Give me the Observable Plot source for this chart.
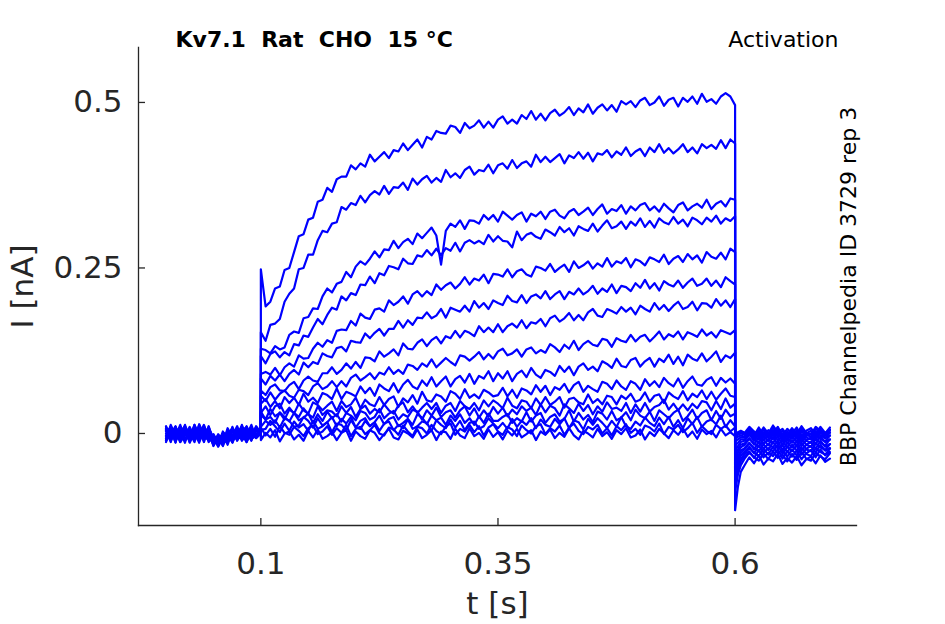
<!DOCTYPE html>
<html>
<head>
<meta charset="utf-8">
<script src="https://cdn.jsdelivr.net/npm/d3@7"></script>
<script src="https://cdn.jsdelivr.net/npm/@observablehq/plot@0.6"></script>
<style>
  html, body { margin: 0; padding: 0; background: #ffffff; }
  #chart { width: 945px; height: 624px; }
</style>
</head>
<body>
<div id="chart"></div>
<script>
// ---- Text ----
const titleText = "Kv7.1\u00a0 Rat\u00a0 CHO\u00a0 15 \u00b0C";
const protocolText = "Activation";
const sourceText = "BBP Channelpedia ID 3729 rep 3";
const xLabel = "t [s]";
const yLabel = "I [nA]";

// ---- Ticks ----
const xTicks = [0.1, 0.35, 0.6];
const yTicks = [0, 0.25, 0.5];

// ---- Segment time spans (s) ----
const preSpan = [0, 0.1];      // holding before the step
const pulseSpan = [0.1, 0.6];  // voltage step
const postT = [0.6,0.603,0.606,0.61,0.615,0.62,0.625,0.63,0.635,0.64,0.645,0.65,0.655,0.66,0.665,0.67,0.675,0.68,0.685,0.69,0.695,0.7];

// ---- Current traces, values in pA ----
// pre-step baseline, t = 0 ... 0.1
const pre1 = [4,-11,8,-3,13,-7,1,-14,6,-4,-16,-6,-19,3,-10,7,-4,11,-6,8,0];
const pre2 = [-8,7,-13,11,-1,6,-10,14,-4,3,-19,-3,-13,-7,8,-11,4,-3,13,-7,1];
const pre3 = [10,-3,4,-13,7,-8,13,-6,3,-11,-7,-18,-1,-11,6,-4,10,-8,3,-1,-1];
const pre4 = [-4,11,-8,3,-14,8,-3,7,-10,11,-13,-4,-17,4,-7,-1,11,-10,6,-6,2];
const pre5 = [7,-13,10,-6,3,-11,8,-1,13,-7,-3,-20,-6,1,-13,8,-6,3,-11,10,0];
const pre6 = [-11,4,-4,13,-8,1,-13,10,-3,6,-15,-1,-10,-14,4,-3,8,-13,1,7,-2];
const pre7 = [3,8,-10,-1,11,-4,6,-11,8,-8,-4,-17,3,-8,-3,11,-7,4,-4,11,1];
const pre8 = [-7,-1,11,-10,4,-13,3,8,-7,1,-11,-7,-18,6,-14,3,-3,8,-8,-4,0];
const pre9 = [11,-8,3,7,-11,4,-8,13,-4,-10,-1,-14,-6,-8,7,-7,13,-6,4,3,-1];
const pre10 = [-3,10,-11,4,8,-7,11,-4,1,7,-18,-8,-1,-13,10,-10,3,7,-8,6,2];
const pre11 = [6,-4,7,-13,-3,10,-7,4,-13,8,-6,-19,0,-4,3,6,-11,-1,10,-7,0];
const pre12 = [-10,13,-3,8,-8,-6,7,-8,11,-3,-13,-3,-15,8,-6,-8,6,-4,-3,7,1];
const pre13 = [8,-11,4,-4,10,-14,3,7,-6,10,-10,-15,-8,-1,8,-10,4,10,-6,-3,-2];
const pre14 = [0,6,-14,10,-1,7,-11,3,8,-13,-4,-11,-3,-17,4,-6,-8,3,-10,8,0];
const pre15 = [4,-7,10,-6,7,-10,13,-3,-8,4,-8,-17,1,-3,-11,7,-1,-13,8,-1,1];
const pre16 = [-13,4,-3,8,-10,-1,6,-11,4,-7,-3,-14,-11,-4,-13,4,-7,3,-3,6,-1];

// step, t = 0.1 ... 0.6
const step1 = [248,192,199,219,222,247,250,274,298,301,323,326,350,353,371,365,384,388,388,405,399,408,403,421,411,418,425,416,428,426,438,428,436,444,432,448,444,457,454,453,465,463,454,469,461,465,473,462,471,462,474,479,468,474,468,481,475,487,474,483,473,484,489,480,485,493,481,491,485,497,483,492,497,488,496,486,502,497,502,493,503,507,496,500,509,495,504,507,494,507,501,509,498,513,501,505,498,509,514,509,496];
const step2 = [153,140,164,166,173,199,211,219,248,250,270,270,292,306,304,317,319,342,338,348,345,359,349,360,366,361,374,362,372,371,379,368,385,376,384,389,379,386,380,398,387,393,386,398,403,391,398,396,406,393,405,408,400,413,401,408,411,403,421,410,418,410,416,422,408,420,416,425,415,424,411,423,421,428,417,426,421,432,419,426,430,419,432,425,437,424,431,423,429,437,425,432,423,437,431,436,430,443,431,444,438];
const step3 = [128,126,121,132,127,130,149,154,152,174,176,189,188,207,219,213,226,229,244,236,252,260,255,264,275,266,278,277,291,280,289,294,286,302,295,303,311,299,255,306,317,312,322,309,322,321,317,330,323,330,320,335,329,323,330,334,320,332,328,335,324,335,338,329,325,335,339,330,335,341,330,339,346,332,339,336,345,332,343,337,345,348,337,343,335,347,340,334,345,349,337,343,347,341,353,339,347,351,343,355,353];
const step4 = [117,106,120,124,115,123,118,135,133,148,146,160,173,165,179,190,187,207,201,212,209,225,224,237,227,242,239,253,251,248,264,257,256,269,267,277,269,279,269,280,276,288,275,288,292,287,291,286,300,290,298,291,290,281,305,292,300,303,297,294,308,304,299,312,304,310,299,313,309,306,317,305,314,322,310,313,320,309,320,314,325,312,321,311,325,319,316,327,317,323,313,326,322,316,326,320,329,317,325,321,328];
const step5 = [90,93,89,99,88,100,106,101,118,113,114,128,137,131,141,137,155,157,156,170,163,181,175,173,187,189,184,201,194,199,207,196,210,215,207,215,209,225,217,224,228,219,226,236,225,234,231,240,227,241,240,237,248,236,245,248,240,237,252,250,246,256,244,250,255,244,260,250,254,260,249,257,252,265,252,260,257,265,251,263,260,254,266,263,259,270,256,264,268,259,271,263,269,258,274,267,264,273,263,279,274];
const step6 = [83,74,87,80,89,79,90,96,89,107,100,108,105,121,117,115,129,131,124,140,138,137,151,144,152,158,148,158,158,170,160,171,164,175,174,183,174,178,188,175,190,187,184,193,184,200,190,197,188,201,197,194,208,200,198,209,197,207,210,204,215,203,210,215,203,214,210,219,210,215,223,211,219,214,225,212,223,221,215,227,220,232,219,227,216,230,225,222,231,220,228,234,223,226,234,223,231,221,236,230,225];
const step7 = [65,58,70,74,65,64,73,78,67,80,86,80,78,91,91,100,90,96,106,98,108,99,115,114,109,124,116,121,127,118,136,128,127,137,142,132,141,146,136,147,144,155,145,155,152,147,162,153,160,153,165,153,162,166,160,171,159,168,166,173,162,174,178,169,174,182,171,179,171,183,188,178,176,188,185,181,191,184,190,180,193,188,184,197,187,194,185,193,199,188,191,199,186,197,196,190,203,193,201,191,203];
const step8 = [57,49,62,51,60,65,57,54,66,64,58,71,76,67,71,79,70,79,71,84,89,80,85,91,82,92,89,100,90,96,90,104,102,96,106,101,112,100,107,114,108,103,118,116,110,116,123,112,120,113,124,128,118,121,127,116,127,130,121,126,122,135,130,123,134,128,140,126,135,140,134,132,143,141,131,144,140,138,149,139,146,149,139,146,154,142,150,146,154,142,153,150,146,157,148,153,145,156,153,150,156];
const step9 = [45,52,40,49,38,55,46,54,43,60,48,54,46,61,58,52,68,52,63,60,56,71,61,69,57,74,68,64,76,62,74,81,71,67,80,72,85,71,79,86,71,82,87,77,90,75,87,83,94,79,91,83,94,79,90,95,85,99,89,84,96,93,87,102,93,101,88,101,106,96,101,94,109,105,99,113,102,100,111,114,101,109,114,101,113,108,119,105,116,103,119,113,110,121,109,116,124,108,118,114,122];
const step10 = [31,41,28,41,45,30,39,30,45,35,30,47,43,35,42,48,34,49,40,44,54,38,51,44,41,55,43,52,56,40,53,47,58,45,63,50,48,59,56,48,64,60,52,67,54,59,53,66,62,56,58,69,56,66,54,68,65,59,73,63,72,58,70,66,75,62,73,78,63,72,67,63,78,75,67,80,71,66,79,75,66,82,72,79,70,84,76,71,83,69,79,86,74,72,81,85,72,84,77,83,75];
const step11 = [33,21,37,26,31,21,36,31,25,38,29,24,41,28,35,33,26,41,31,40,25,37,42,30,37,32,44,35,30,42,47,32,41,31,39,46,37,46,31,42,46,34,49,41,37,46,35,50,41,50,45,38,54,42,38,50,48,38,53,43,55,43,48,55,39,52,54,47,44,59,46,52,44,57,55,44,57,52,60,48,51,62,48,57,59,46,62,56,52,64,50,60,55,65,52,63,51,60,68,57,55];
const step12 = [28,21,25,16,32,25,18,31,20,24,30,16,29,19,33,23,29,18,31,27,20,34,31,21,25,37,23,30,34,21,29,25,36,33,21,35,27,39,25,32,35,24,35,41,27,38,24,35,26,40,30,39,26,36,29,41,34,39,28,44,32,42,38,27,44,38,31,45,34,43,29,41,33,47,37,39,34,46,31,44,33,46,33,40,43,51,36,45,35,44,35,45,38,49,47,35,49,37,53,39,45];
const step13 = [10,19,13,20,9,23,19,10,12,25,19,9,23,12,17,25,11,22,15,25,9,19,23,11,17,27,14,22,25,11,16,22,13,29,24,14,27,20,24,13,27,19,29,16,23,13,26,16,30,19,19,25,29,16,23,18,32,18,27,31,16,25,29,18,22,35,18,31,21,28,17,33,30,21,34,20,24,32,20,36,27,23,33,19,35,29,23,31,36,19,26,36,22,31,35,20,34,22,36,26,30];
const step14 = [5,7,19,11,2,15,4,18,9,14,4,19,7,11,17,2,15,13,5,20,9,7,19,11,17,4,15,18,5,13,8,21,7,11,18,16,4,20,13,8,21,9,19,5,16,18,7,11,23,15,8,16,7,22,10,19,13,23,8,21,13,10,22,14,23,8,20,17,6,22,13,23,16,8,19,10,25,11,7,18,12,24,16,11,24,14,25,10,20,8,23,14,25,10,18,21,14,27,10,20,11];
const step15 = [9,-3,7,-5,11,1,-2,10,4,-4,8,12,-1,3,11,-2,8,1,13,-4,7,10,-1,5,13,0,-3,9,6,-2,12,3,-4,10,8,0,13,4,-1,11,15,-2,7,3,13,2,11,-3,9,14,3,-2,10,6,-4,12,5,0,11,14,-1,8,3,12,-2,9,15,4,-1,10,6,13,0,8,-3,11,5,14,1,7,-2,12,9,3,15,-1,10,6,13,2,8,16,1,11,4,-1,13,7,12,3,9];
const step16 = [-10,1,-6,5,-12,0,3,-9,-2,-11,4,-6,6,-8,-4,2,-10,1,5,-11,3,-4,-8,5,1,-10,-1,7,-6,-9,4,0,-6,6,-7,-2,5,-10,3,2,-8,7,-3,-7,8,-4,1,-8,6,-5,2,-9,4,-3,7,-6,-1,5,-10,3,-2,6,-7,1,-5,8,-3,-9,4,0,-6,7,-4,2,-8,5,-1,8,-6,-3,6,-9,2,-4,7,0,-7,5,-2,8,-5,3,-8,6,-1,4,-6,7,-3,2,-4];

// tail after the step, times in postT
const tail1 = [-116,-80,-58,-48,-36,-45,-33,-47,-38,-42,-31,-46,-37,-44,-34,-48,-39,-35,-45,-33,-43,-38];
const tail2 = [-88,-62,-48,-38,-29,-36,-41,-30,-39,-27,-37,-32,-42,-31,-40,-28,-38,-41,-29,-35,-39,-30];
const tail3 = [-76,-55,-42,-35,-27,-37,-25,-36,-29,-34,-24,-38,-27,-35,-26,-39,-30,-25,-36,-24,-33,-28];
const tail4 = [-70,-50,-39,-31,-22,-29,-34,-23,-32,-20,-30,-25,-35,-24,-33,-21,-31,-34,-22,-28,-32,-23];
const tail5 = [-62,-44,-34,-28,-20,-30,-18,-29,-22,-27,-17,-31,-20,-27,-18,-32,-23,-19,-29,-17,-26,-22];
const tail6 = [-55,-39,-30,-24,-15,-22,-27,-16,-25,-13,-23,-18,-28,-17,-26,-14,-24,-27,-15,-21,-25,-16];
const tail7 = [-48,-34,-26,-22,-14,-24,-12,-23,-16,-21,-11,-25,-14,-21,-12,-26,-17,-13,-23,-11,-20,-16];
const tail8 = [-40,-29,-21,-17,-8,-15,-20,-9,-18,-6,-16,-11,-21,-10,-19,-7,-17,-20,-8,-14,-18,-9];
const tail9 = [-32,-24,-17,-15,-7,-17,-5,-16,-9,-14,-4,-18,-7,-14,-5,-19,-10,-6,-16,-4,-13,-9];
const tail10 = [-25,-19,-13,-11,-2,-9,-14,-3,-12,0,-10,-5,-15,-4,-13,-1,-11,-14,-2,-8,-12,-3];
const tail11 = [-18,-14,-9,-9,-1,-11,1,-10,-3,-8,2,-12,-1,-8,1,-13,-4,0,-10,2,-7,-3];
const tail12 = [-12,-9,-6,-6,3,-4,-9,2,-7,5,-5,0,-10,1,-8,4,-6,-9,3,-3,-7,2];
const tail13 = [-8,-5,-3,-5,3,-7,5,-6,1,-4,6,-8,3,-4,5,-9,0,4,-6,6,-3,1];
const tail14 = [-5,-2,0,-2,7,0,-5,6,-3,9,-1,4,-6,5,-4,8,-2,-5,7,1,-3,6];
const tail15 = [-3,0,2,-1,7,-3,9,-2,5,0,10,-4,7,0,9,-5,4,8,-2,10,1,5];
const tail16 = [0,2,4,1,10,3,-2,9,0,12,2,7,-3,8,-1,11,1,-2,10,4,0,9];

const pres = [pre1,pre2,pre3,pre4,pre5,pre6,pre7,pre8,pre9,pre10,pre11,pre12,pre13,pre14,pre15,pre16];
const steps = [step1,step2,step3,step4,step5,step6,step7,step8,step9,step10,step11,step12,step13,step14,step15,step16];
const tails = [tail1,tail2,tail3,tail4,tail5,tail6,tail7,tail8,tail9,tail10,tail11,tail12,tail13,tail14,tail15,tail16];

// evenly spaced sample times across a span
function sampleTimes(span, n) {
  return Array.from({length: n}, (_, i) => span[0] + (span[1] - span[0]) * i / (n - 1));
}

const rows = [];
steps.forEach((stepVals, k) => {
  const preVals = pres[k], tailVals = tails[k];
  const tPre = sampleTimes(preSpan, preVals.length);
  const tStep = sampleTimes(pulseSpan, stepVals.length);
  preVals.forEach((v, i) => rows.push({sweep: k, t: tPre[i], I: v / 1000}));
  stepVals.forEach((v, i) => rows.push({sweep: k, t: tStep[i], I: v / 1000}));
  tailVals.forEach((v, i) => rows.push({sweep: k, t: postT[i], I: v / 1000}));
});

const ink = "#262626";
const W = 945, H = 624, mL = 138, mR = 89, mT = 47, mB = 99;
const frameW = W - mL - mR, frameH = H - mT - mB;

const chart = Plot.plot({
  width: W,
  height: H,
  marginLeft: mL,
  marginRight: mR,
  marginTop: mT,
  marginBottom: mB,
  x: {domain: [-0.029, 0.728]},
  y: {domain: [-0.139, 0.583]},
  style: {fontFamily: "DejaVu Sans", color: ink, background: "#ffffff", overflow: "visible"},
  marks: [
    Plot.line(rows, {x: "t", y: "I", z: "sweep", stroke: "#0000ff", strokeWidth: 2.2, strokeLinejoin: "round"}),
    Plot.frame({anchor: "left", stroke: ink, strokeWidth: 1.3}),
    Plot.frame({anchor: "bottom", stroke: ink, strokeWidth: 1.3}),
    Plot.ruleX(xTicks, {x: d => d, insetTop: frameH - 7, stroke: ink, strokeWidth: 1.3}),
    Plot.ruleY(yTicks, {y: d => d, insetRight: frameW - 7, stroke: ink, strokeWidth: 1.3}),
    Plot.axisX({ticks: xTicks, tickSize: 0, tickPadding: 39, lineAnchor: "middle", fontSize: 31, label: null, tickFormat: d => String(d), fill: ink}),
    Plot.axisY({ticks: yTicks, tickSize: 0, tickPadding: 16, fontSize: 31, label: null, tickFormat: d => String(d), fill: ink}),
    Plot.text([xLabel], {frameAnchor: "bottom", dy: 79, fontSize: 31, lineAnchor: "middle", fill: ink}),
    Plot.text([yLabel], {frameAnchor: "left", dx: -115, rotate: -90, textAnchor: "middle", fontSize: 31, lineAnchor: "middle", fill: ink}),
    Plot.text([titleText], {frameAnchor: "top-left", dx: 37, dy: -8, textAnchor: "start", lineAnchor: "middle", fontSize: 22, fontWeight: "bold", fill: "#000000"}),
    Plot.text([protocolText], {frameAnchor: "top-right", dx: -18, dy: -8, textAnchor: "end", lineAnchor: "middle", fontSize: 22, fill: "#000000"}),
    Plot.text([sourceText], {frameAnchor: "right", dx: -8, rotate: -90, textAnchor: "middle", lineAnchor: "middle", fontSize: 22, fill: "#000000"})
  ]
});
document.getElementById("chart").appendChild(chart);
</script>
</body>
</html>
